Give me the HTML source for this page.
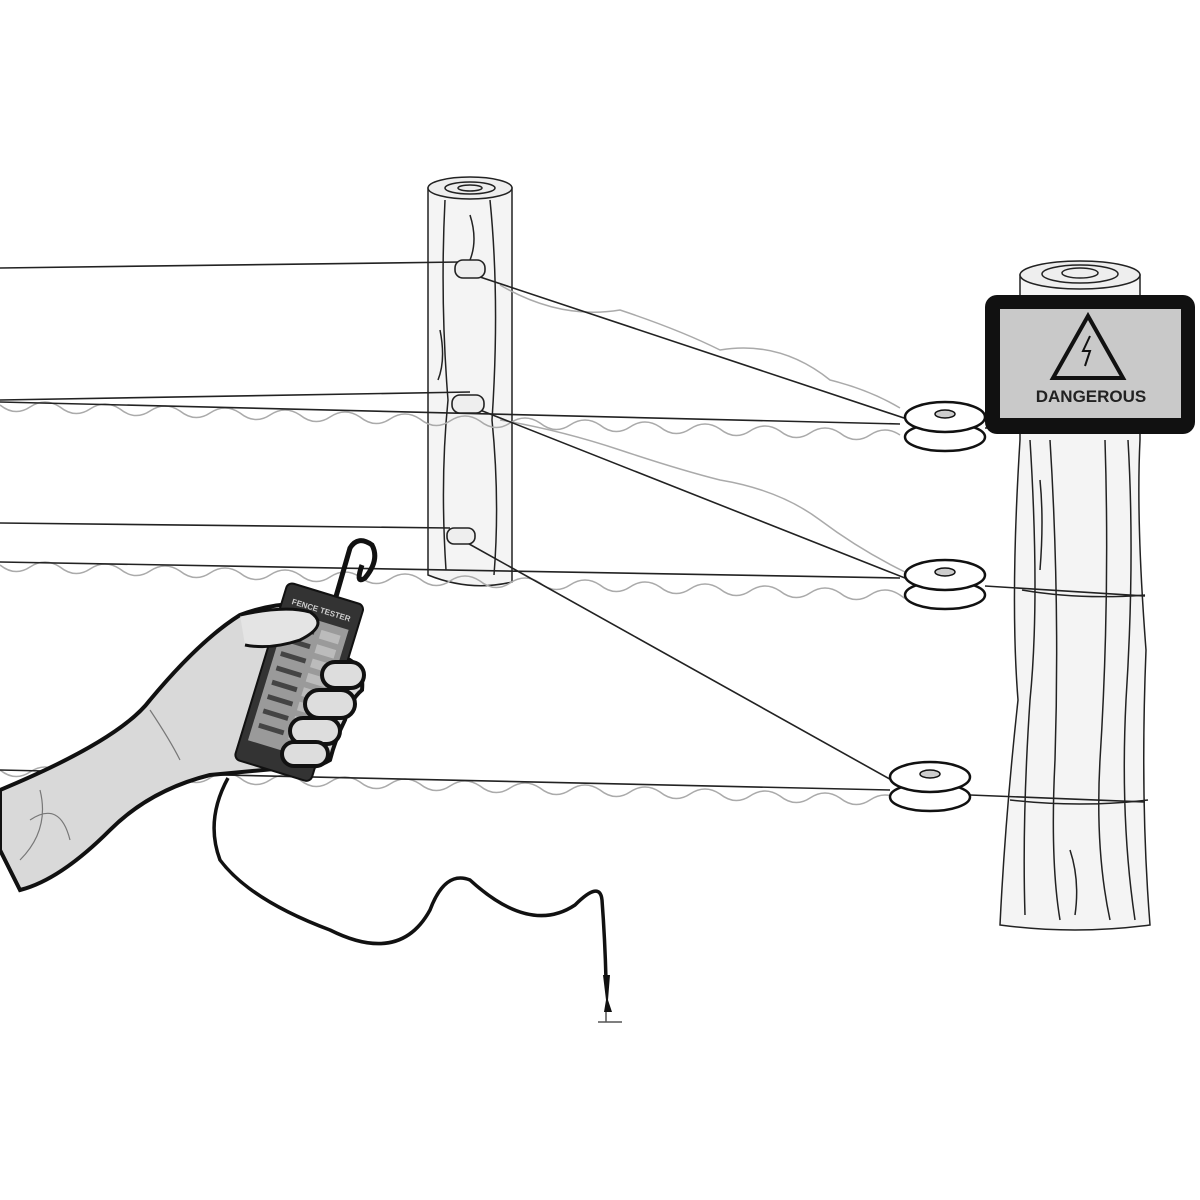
<!DOCTYPE html>
<html><head><meta charset="utf-8"><style>html,body{margin:0;padding:0;background:#fff}svg{display:block}</style></head>
<body>
<svg width="1200" height="1200" viewBox="0 0 1200 1200" xmlns="http://www.w3.org/2000/svg">
<rect width="1200" height="1200" fill="#fff"/>
<!-- left post -->
<g stroke="#222" stroke-width="1.5" fill="#f4f4f4">
<path d="M428 188 L428 575 Q470 592 512 582 L512 188 Z"/>
<ellipse cx="470" cy="188" rx="42" ry="11" fill="#eee"/>
<ellipse cx="470" cy="188" rx="25" ry="6" fill="none"/>
<ellipse cx="470" cy="188" rx="12" ry="3" fill="none"/>
<path d="M445 200 Q440 300 448 400 Q440 480 446 570 M490 200 Q500 300 492 420 Q500 500 494 575 M470 215 Q478 240 470 260 M440 330 Q446 360 438 380" fill="none"/>
</g>
<!-- right post -->
<g stroke="#222" stroke-width="1.5" fill="#f4f4f4">
<path d="M1020 275 L1020 440 Q1010 600 1018 700 Q1005 820 1000 925 Q1075 935 1150 925 Q1140 800 1146 650 Q1136 520 1140 440 L1140 275 Z"/>
<ellipse cx="1080" cy="275" rx="60" ry="14" fill="#eee"/>
<ellipse cx="1080" cy="274" rx="38" ry="9" fill="none"/>
<ellipse cx="1080" cy="273" rx="18" ry="5" fill="none"/>
<path d="M1030 440 Q1040 600 1030 700 Q1022 820 1025 915 M1050 440 Q1060 600 1055 760 Q1050 860 1060 920 M1105 440 Q1110 600 1100 760 Q1095 850 1110 920 M1128 440 Q1135 560 1126 700 Q1120 820 1135 920 M1022 590 Q1080 600 1145 595 M1010 800 Q1080 808 1148 800 M1040 480 Q1044 520 1040 570 M1070 850 Q1080 880 1075 915" fill="none"/>
</g>
<!-- gray wavy wires -->
<g stroke="#aaa" stroke-width="1.5" fill="none">
<path d="M0 405 q15 12 30 2 q15 -10 30 0 q15 12 30 2 q15 -10 30 0 q15 12 30 2 q15 -10 30 0 q15 12 30 2 q15 -10 30 0 q15 12 30 2 q15 -10 30 0 q15 12 30 2 q15 -10 30 0 q15 12 30 2 q15 -10 30 0 q15 12 30 2 q15 -10 30 0 q15 12 30 2 q15 -10 30 0 q15 12 30 2 q15 -10 30 0 q15 12 30 2 q15 -10 30 0 q15 12 30 2 q15 -10 30 0 q15 12 30 2 q15 -10 30 0 q15 12 30 2 q15 -10 30 0 q15 12 30 2 q15 -10 30 0"/>
<path d="M0 565 q15 12 30 2 q15 -10 30 0 q15 12 30 2 q15 -10 30 0 q15 12 30 2 q15 -10 30 0 q15 12 30 2 q15 -10 30 0 q15 12 30 2 q15 -10 30 0 q15 12 30 2 q15 -10 30 0 q15 12 30 2 q15 -10 30 0 q15 12 30 2 q15 -10 30 0 q15 12 30 2 q15 -10 30 0 q15 12 30 2 q15 -10 30 0 q15 12 30 2 q15 -10 30 0 q15 12 30 2 q15 -10 30 0 q15 12 30 2 q15 -10 30 0 q15 12 30 2 q15 -10 30 0 q15 12 30 2 q15 -10 30 0 q15 12 30 2 q15 -10 30 0"/>
<path d="M0 770 q15 12 30 2 q15 -10 30 0 q15 12 30 2 q15 -10 30 0 q15 12 30 2 q15 -10 30 0 q15 12 30 2 q15 -10 30 0 q15 12 30 2 q15 -10 30 0 q15 12 30 2 q15 -10 30 0 q15 12 30 2 q15 -10 30 0 q15 12 30 2 q15 -10 30 0 q15 12 30 2 q15 -10 30 0 q15 12 30 2 q15 -10 30 0 q15 12 30 2 q15 -10 30 0 q15 12 30 2 q15 -10 30 0 q15 12 30 2 q15 -10 30 0 q15 12 30 2 q15 -10 30 0 q15 12 30 2 q15 -10 30 0 q15 12 30 2 q15 -10 30 0"/>
<path d="M500 285 Q560 320 620 310 Q680 330 720 350 Q780 340 830 380 Q870 390 900 408"/>
<path d="M500 420 Q560 430 620 450 Q680 470 720 480 Q780 490 820 520 Q860 550 905 572"/>
</g>
<!-- black wires -->
<g stroke="#222" stroke-width="1.6" fill="none">
<path d="M0 268 L460 262"/>
<path d="M0 400 L470 392"/>
<path d="M0 402 L900 424"/>
<path d="M0 523 L450 528"/>
<path d="M0 562 L900 578"/>
<path d="M0 770 L890 790"/>
<path d="M480 277 L910 420"/>
<path d="M480 410 L910 580"/>
<path d="M462 540 L895 782"/>
<path d="M985 428 L1020 428 M985 586 L1145 596 M970 795 L1145 802"/>
</g>
<!-- left post clips -->
<g stroke="#222" stroke-width="1.6" fill="#eee">
<rect x="455" y="260" width="30" height="18" rx="8"/>
<rect x="452" y="395" width="32" height="18" rx="8"/>
<rect x="447" y="528" width="28" height="16" rx="7"/>
</g>
<!-- insulators -->
<g stroke="#111" stroke-width="2.5" fill="#fff">
<g transform="translate(945,425)"><ellipse cx="0" cy="12" rx="40" ry="14"/><ellipse cx="0" cy="-8" rx="40" ry="15"/><ellipse cx="0" cy="-11" rx="10" ry="4" fill="#ccc" stroke-width="1.5"/></g>
<g transform="translate(945,583)"><ellipse cx="0" cy="12" rx="40" ry="14"/><ellipse cx="0" cy="-8" rx="40" ry="15"/><ellipse cx="0" cy="-11" rx="10" ry="4" fill="#ccc" stroke-width="1.5"/></g>
<g transform="translate(930,785)"><ellipse cx="0" cy="12" rx="40" ry="14"/><ellipse cx="0" cy="-8" rx="40" ry="15"/><ellipse cx="0" cy="-11" rx="10" ry="4" fill="#ccc" stroke-width="1.5"/></g>
</g>
<!-- sign -->
<rect x="985" y="295" width="210" height="139" rx="12" fill="#111"/>
<rect x="1000" y="309" width="181" height="109" fill="#c9c9c9"/>
<path d="M1088 316 L1053 378 L1123 378 Z" fill="none" stroke="#111" stroke-width="4"/>
<path d="M1090 336 L1083 351 L1090 351 L1085 366" fill="none" stroke="#111" stroke-width="2"/>
<text x="1091" y="402" text-anchor="middle" font-family="Liberation Sans, sans-serif" font-size="17" font-weight="bold" fill="#222">DANGEROUS</text>
<!-- cable -->
<path d="M228 778 Q205 820 220 860 Q250 900 330 930 Q400 965 430 910 Q445 870 470 880 Q530 935 575 905 Q600 880 602 900 Q605 940 606 980" fill="none" stroke="#111" stroke-width="3.5"/>
<path d="M603 975 L610 975 L608 1000 L612 1012 L604 1012 L606 1000 Z" fill="#111"/>
<path d="M606 1012 L606 1022 M598 1022 L622 1022" stroke="#555" stroke-width="1.5"/>
<!-- hand / arm -->
<path d="M0 850 L0 790 Q120 740 150 700 Q200 640 240 615 Q280 600 320 605 Q350 610 345 630 L335 655 Q365 660 362 690 Q350 700 345 720 Q335 740 330 760 Q310 772 285 768 L210 775 Q150 790 110 830 Q60 880 20 890 Z" fill="#d9d9d9" stroke="#111" stroke-width="4"/>
<path d="M30 820 Q60 800 70 840 M40 790 Q50 830 20 860 M150 710 Q170 740 180 760" fill="none" stroke="#777" stroke-width="1.2"/>
<!-- tester hook -->
<path d="M335 600 L350 548 Q358 535 372 545 Q380 560 365 578 Q355 585 362 565" fill="none" stroke="#111" stroke-width="5"/>
<!-- tester -->
<g transform="translate(288,582) rotate(17)">
<rect x="0" y="0" width="80" height="185" rx="6" fill="#333" stroke="#111" stroke-width="2"/>
<rect x="8" y="28" width="64" height="135" fill="#9a9a9a"/>
<text x="40" y="20" text-anchor="middle" font-family="Liberation Sans, sans-serif" font-size="8" font-weight="bold" fill="#ccc">FENCE TESTER</text>
<g fill="#444"><rect x="14" y="38" width="26" height="5"/><rect x="14" y="53" width="26" height="5"/><rect x="14" y="68" width="26" height="5"/><rect x="14" y="83" width="26" height="5"/><rect x="14" y="98" width="26" height="5"/><rect x="14" y="113" width="26" height="5"/><rect x="14" y="128" width="26" height="5"/><rect x="14" y="143" width="26" height="5"/></g>
<g fill="#bbb"><rect x="46" y="36" width="20" height="9"/><rect x="46" y="51" width="20" height="9"/><rect x="46" y="66" width="20" height="9"/><rect x="46" y="81" width="20" height="9"/><rect x="46" y="96" width="20" height="9"/><rect x="46" y="111" width="20" height="9"/><rect x="46" y="126" width="20" height="9"/><rect x="46" y="141" width="20" height="9"/></g>
</g>
<!-- thumb and fingers over tester -->
<path d="M240 615 Q285 605 310 612 Q330 625 300 640 Q270 650 245 645" fill="#e4e4e4" stroke="#111" stroke-width="3"/>
<g fill="#ddd" stroke="#111" stroke-width="4">
<rect x="322" y="662" width="42" height="26" rx="13"/>
<rect x="305" y="690" width="50" height="28" rx="14"/>
<rect x="290" y="718" width="50" height="26" rx="13"/>
<rect x="282" y="742" width="46" height="24" rx="12"/>
</g>
</svg>
</body></html>
